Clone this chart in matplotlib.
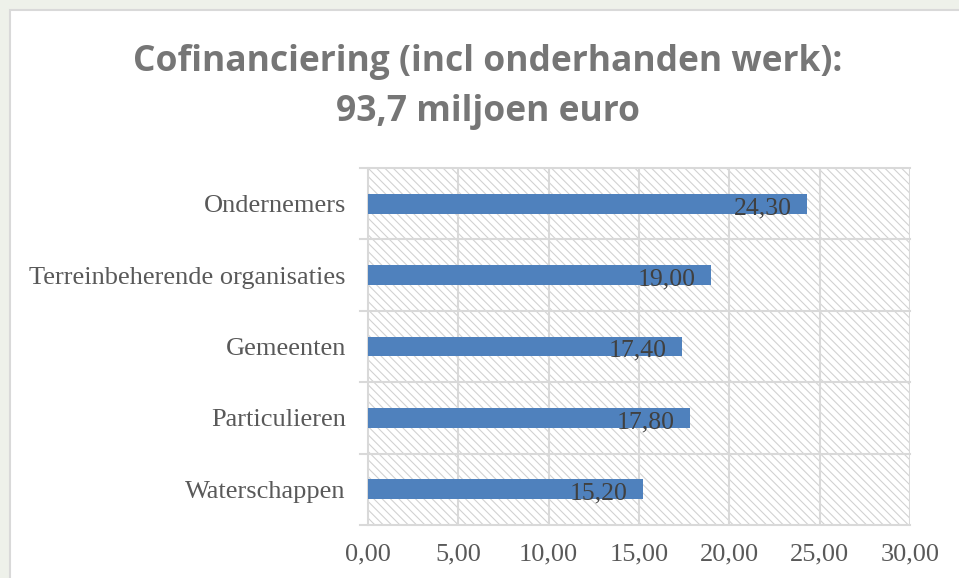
import matplotlib.pyplot as plt
from matplotlib.patches import Rectangle

# Data
categories = ["Waterschappen", "Particulieren", "Gemeenten",
              "Terreinbeherende organisaties", "Ondernemers"]
values = [15.20, 17.80, 17.40, 19.00, 24.30]
x_ticks = [0, 5, 10, 15, 20, 25, 30]

title = "Cofinanciering (incl onderhanden werk):\n93,7 miljoen euro"

plt.rcParams["hatch.linewidth"] = 0.8
plt.rcParams["hatch.color"] = "#d2d2d2"

fig = plt.figure(figsize=(9.59, 5.78), dpi=100, facecolor="#eef1ea")

# white chart area with light border
fig.patches.append(Rectangle((10 / 959, -0.01), 1.0, 1 - 10 / 578 + 0.01,
                             transform=fig.transFigure, facecolor="white",
                             edgecolor="#d9d9d9", linewidth=1.5, zorder=-10))

ax = fig.add_axes([368 / 959, 1 - 525 / 578, (910 - 368) / 959, (525 - 168) / 578])
ax.set_facecolor("none")
ax.set_zorder(2)

# hatched background of plot area
ax.add_patch(Rectangle((0, 0), 1, 1, transform=ax.transAxes, facecolor="white",
                       edgecolor="#d2d2d2", hatch="\\\\\\\\", linewidth=0, zorder=0))

y = range(len(categories))
ax.barh(y, values, height=0.28, color="#4f81bd", zorder=3)

for i, v in enumerate(values):
    ax.text(v - 0.85, i - 0.06, f"{v:.2f}".replace(".", ","), ha="right", va="center",
            fontsize=18.5, family="Liberation Serif", color="#404040", zorder=4)

ax.set_xlim(0, 30)
ax.set_ylim(-0.5, len(categories) - 0.5)
ax.set_xticks(x_ticks)
ax.set_xticklabels([f"{t:.2f}".replace(".", ",") for t in x_ticks])
ax.set_yticks(list(y))
ax.set_yticklabels(categories)

# grid lines: vertical at x ticks, horizontal at category boundaries
for t in x_ticks[1:]:
    ax.axvline(t, color="#d9d9d9", linewidth=1.5, zorder=1)
for b in [-0.5, 0.5, 1.5, 2.5, 3.5, 4.5]:
    ax.plot([-0.45, 30], [b, b], color="#d9d9d9", linewidth=1.5, zorder=1, clip_on=False)

for s in ax.spines.values():
    s.set_visible(False)
ax.spines["left"].set_visible(True)
ax.spines["left"].set_color("#d9d9d9")
ax.spines["left"].set_linewidth(1.5)

ax.tick_params(axis="both", length=0, labelsize=19, labelcolor="#595959")
ax.tick_params(axis="x", pad=13)
ax.tick_params(axis="y", pad=16)
for lab in ax.get_xticklabels() + ax.get_yticklabels():
    lab.set_family("Liberation Serif")

fig.text(488 / 959, 1 - 87 / 578, title, ha="center", va="center",
         fontsize=25.5, fontweight="bold", family="Open Sans", color="#767676",
         linespacing=1.5)

plt.savefig("out.png", dpi=100)
plt.close()
